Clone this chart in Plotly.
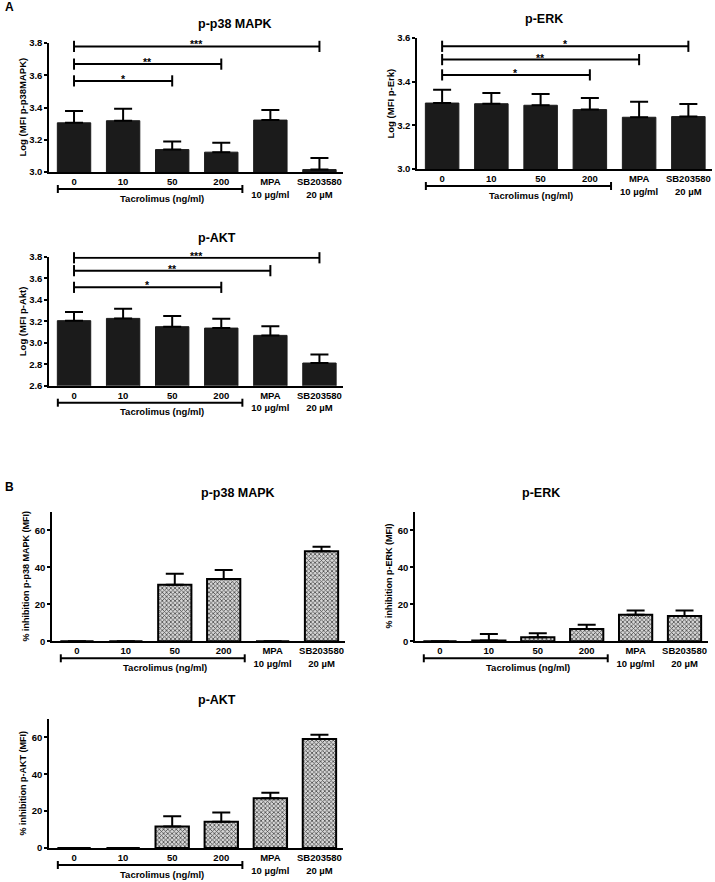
import plotly.graph_objects as go

W, H = 715, 882
FONT = "Arial, 'Liberation Sans', Helvetica, sans-serif"

# ---------------- data ----------------
categories = ["0", "10", "50", "200", "MPA", "SB203580"]
dose_labels = ["", "", "", "", "10 µg/ml", "20 µM"]
group_label = "Tacrolimus (ng/ml)"

# Panel A: Log(MFI), mean and SEM
a_p38_mean = [3.305, 3.318, 3.139, 3.123, 3.322, 3.015]
a_p38_sem = [0.073, 0.075, 0.050, 0.058, 0.062, 0.072]
a_erk_mean = [3.302, 3.299, 3.292, 3.272, 3.237, 3.240]
a_erk_sem = [0.061, 0.049, 0.052, 0.053, 0.071, 0.058]
a_akt_mean = [3.205, 3.226, 3.149, 3.136, 3.068, 2.811]
a_akt_sem = [0.080, 0.090, 0.099, 0.087, 0.084, 0.080]

# significance comparisons vs "0": (target, label, bracket height)
a_p38_sig = [("50", "*", 3.565), ("200", "**", 3.669), ("SB203580", "***", 3.779)]
a_erk_sig = [("200", "*", 3.431), ("MPA", "**", 3.501), ("SB203580", "*", 3.562)]
a_akt_sig = [("200", "*", 3.515), ("MPA", "**", 3.670), ("SB203580", "***", 3.790)]

# Panel B: % inhibition, mean and SEM
b_p38_mean = [0, 0, 30.5, 33.6, 0, 48.6]
b_p38_sem = [0, 0, 6.0, 4.9, 0, 2.5]
b_erk_mean = [0, 0.4, 2.2, 6.7, 14.3, 13.7]
b_erk_sem = [0, 3.6, 2.1, 2.3, 2.3, 2.9]
b_akt_mean = [0, 0, 11.6, 14.3, 27.0, 59.2]
b_akt_sem = [0, 0, 5.6, 4.9, 3.0, 2.3]

p38_ticks = [3.0, 3.2, 3.4, 3.6, 3.8]
erk_ticks = [3.0, 3.2, 3.4, 3.6]
akt_ticks = [2.6, 2.8, 3.0, 3.2, 3.4, 3.6, 3.8]
inh_ticks = [0, 20, 40, 60]

# ---------------- layout helpers ----------------
def pxx(v):
    return v / W

def pxy(v):
    return 1 - v / H

panels = [
    dict(title="p-p38 MAPK", ytitle="Log (MFI p-p38MAPK)", mean=a_p38_mean, sem=a_p38_sem,
         sig=a_p38_sig, yrange=[3.0, 3.8], ticks=p38_ticks, fmt=".1f", box=(49, 343, 43, 172), hatch=False),
    dict(title="p-ERK", ytitle="Log (MFI p-Erk)", mean=a_erk_mean, sem=a_erk_sem,
         sig=a_erk_sig, yrange=[3.0, 3.6], ticks=erk_ticks, fmt=".1f", box=(417, 712, 38, 169), hatch=False),
    dict(title="p-AKT", ytitle="Log (MFI p-Akt)", mean=a_akt_mean, sem=a_akt_sem,
         sig=a_akt_sig, yrange=[2.6, 3.8], ticks=akt_ticks, fmt=".1f", box=(49, 343, 256.7, 385.7), hatch=False),
    dict(title="p-p38 MAPK", ytitle="% inhibition p-p38 MAPK (MFI)", mean=b_p38_mean, sem=b_p38_sem,
         sig=[], yrange=[0, 70], ticks=inh_ticks, fmt="d", box=(52, 345, 511.7, 641.3), hatch=True),
    dict(title="p-ERK", ytitle="% inhibition p-ERK (MFI)", mean=b_erk_mean, sem=b_erk_sem,
         sig=[], yrange=[0, 70], ticks=inh_ticks, fmt="d", box=(415, 708, 511.7, 641.3), hatch=True),
    dict(title="p-AKT", ytitle="% inhibition p-AKT (MFI)", mean=b_akt_mean, sem=b_akt_sem,
         sig=[], yrange=[0, 70], ticks=inh_ticks, fmt="d", box=(49, 343, 719, 848), hatch=True),
]

ticktext = [c if d == "" else f"{c}<br>{d}" for c, d in zip(categories, dose_labels)]

fig = go.Figure()
layout = dict(
    width=W, height=H, margin=dict(l=0, r=0, t=0, b=0),
    paper_bgcolor="white", plot_bgcolor="white", showlegend=False,
    font=dict(family=FONT, color="black"), bargap=0.32,
    template="none",
)
annotations = []
shapes = []

for i, p in enumerate(panels, start=1):
    suffix = "" if i == 1 else str(i)
    xa, ya = "x" + suffix, "y" + suffix
    L, R, T, B = p["box"]

    if p["hatch"]:
        marker = dict(color="#c8c8c8", line=dict(color="black", width=2),
                      pattern=dict(shape="x", fgcolor="#4a4a4a", bgcolor="#d6d6d6", size=3, solidity=0.45))
    else:
        marker = dict(color="#1b1b1b", line=dict(color="#1b1b1b", width=1))

    fig.add_trace(go.Bar(
        x=categories, y=p["mean"], width=0.68, marker=marker,
        error_y=dict(type="data", array=p["sem"], arrayminus=[0] * len(p["sem"]), symmetric=False,
                     color="black", thickness=2, width=9),
        xaxis=xa, yaxis=ya, hoverinfo="x+y",
    ))

    for target, label, h in p["sig"]:
        k = categories.index(target)
        fig.add_trace(go.Scatter(
            x=[categories[0], target], y=[h, h], mode="lines+markers", cliponaxis=False,
            line=dict(color="black", width=2),
            marker=dict(symbol="line-ns", size=8, line=dict(color="black", width=2)),
            xaxis=xa, yaxis=ya, hoverinfo="skip",
        ))
        annotations.append(dict(x=k / 2, y=h, xref=xa, yref=ya, text=f"<b>{label}</b>", showarrow=False,
                                yanchor="middle", yshift=2, font=dict(size=10.5, family=FONT)))

    layout["xaxis" + suffix] = dict(
        domain=[pxx(L), pxx(R)], anchor=ya, type="category", categoryorder="array",
        categoryarray=categories, range=[-0.51, 5.48], tickvals=categories, ticktext=ticktext,
        ticks="", showline=True, linecolor="black", linewidth=1.5, showgrid=False, zeroline=False,
        tickfont=dict(size=9.5, family=FONT, weight="bold"), automargin=False, fixedrange=True,
    )
    layout["yaxis" + suffix] = dict(
        domain=[pxy(B), pxy(T)], anchor=xa, range=p["yrange"], tickvals=p["ticks"], tickformat=p["fmt"],
        ticks="outside", ticklen=3, tickwidth=1.5, tickcolor="black",
        showline=True, linecolor="black", linewidth=1.5, showgrid=False, zeroline=False,
        tickfont=dict(size=9.5, family=FONT, weight="bold"), automargin=False, fixedrange=True,
    )

    # panel title
    annotations.append(dict(x=pxx((L + R) / 2), y=pxy(T - 19), xref="paper", yref="paper",
                            text=f"<b>{p['title']}</b>", showarrow=False, yanchor="middle",
                            font=dict(size=12.5, family=FONT)))
    # y axis title
    annotations.append(dict(x=pxx(L - 27), y=pxy((T + B) / 2), xref="paper", yref="paper",
                            text=f"<b>{p['ytitle']}</b>", showarrow=False, textangle=-90,
                            xanchor="center", yanchor="middle",
                            font=dict(size=9.5 if not p["hatch"] else 9, family=FONT)))
    # Tacrolimus bracket
    x0, x1 = -0.33, 3.43
    yb = pxy(B + 17)
    shapes.append(dict(type="line", xref=xa, yref="paper", x0=x0, x1=x1, y0=yb, y1=yb,
                       line=dict(color="black", width=2)))
    for xe in (x0, x1):
        shapes.append(dict(type="line", xref=xa, yref="paper", x0=xe, x1=xe,
                           y0=pxy(B + 13), y1=pxy(B + 21), line=dict(color="black", width=2)))
    annotations.append(dict(x=1.8, y=pxy(B + 26), xref=xa, yref="paper", text=f"<b>{group_label}</b>",
                            showarrow=False, yanchor="middle", font=dict(size=9.5, family=FONT)))

annotations.append(dict(x=pxx(3), y=pxy(7.5), xref="paper", yref="paper", text="<b>A</b>",
                        showarrow=False, xanchor="left", yanchor="middle", font=dict(size=12, family=FONT)))
annotations.append(dict(x=pxx(3), y=pxy(487), xref="paper", yref="paper", text="<b>B</b>",
                        showarrow=False, xanchor="left", yanchor="middle", font=dict(size=12, family=FONT)))

layout["annotations"] = annotations
layout["shapes"] = shapes
fig.update_layout(**layout)
fig.write_html("out.html", config={"displayModeBar": False},
               post_script="document.body.style.margin='0';document.body.style.overflow='hidden';")
